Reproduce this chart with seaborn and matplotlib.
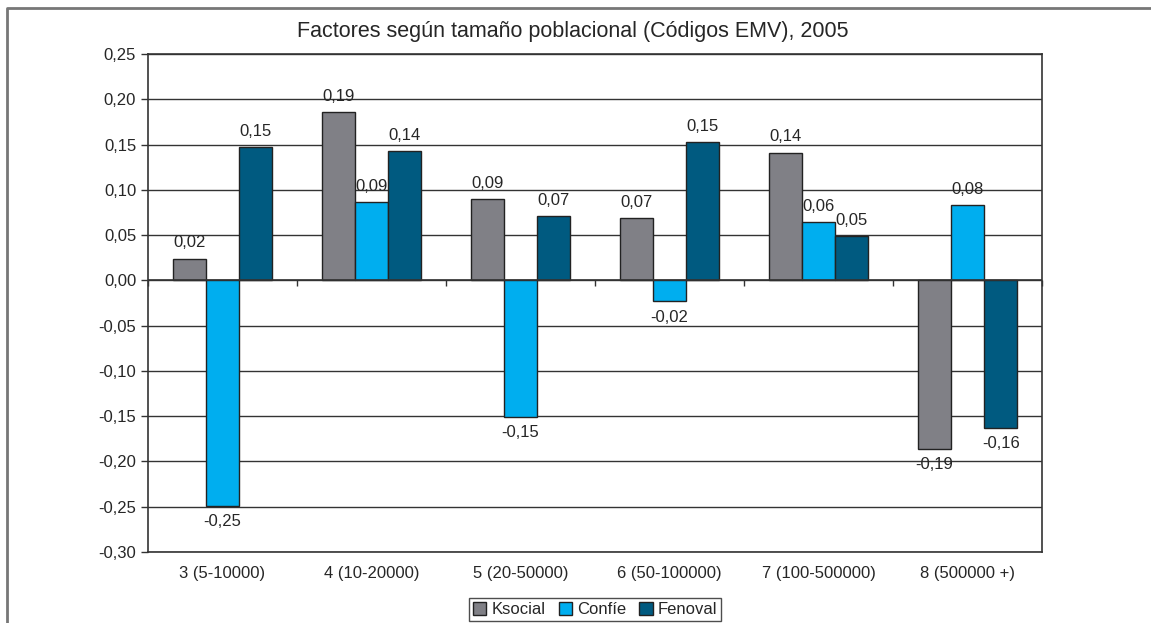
import numpy as np
import pandas as pd
import matplotlib.pyplot as plt
import seaborn as sns
from matplotlib.lines import Line2D

#%%

grupos = ["3 (5-10000)", "4 (10-20000)", "5 (20-50000)", "6 (50-100000)",
          "7 (100-500000)", "8 (500000 +)"]

ksocial = [0.024, 0.186, 0.090, 0.069, 0.141, -0.186]
confie = [-0.249, 0.086, -0.151, -0.023, 0.064, 0.083]
fenoval = [0.147, 0.143, 0.071, 0.153, 0.049, -0.163]

series = ["Ksocial", "Confíe", "Fenoval"]
colores = ["#808086", "#00aeef", "#005a80"]

#%%

df = pd.DataFrame({"grupo": grupos * 3,
                   "valor": ksocial + confie + fenoval,
                   "serie": np.repeat(series, len(grupos))})

sns.set_style("white")
plt.rcParams["font.family"] = ["Liberation Sans", "DejaVu Sans"]

fig = plt.figure(figsize=(11.51, 6.23), dpi=100)
ax = fig.add_axes([0.1286, 0.1140, 0.7767, 0.7993])

sns.barplot(ax=ax, data=df, x="grupo", y="valor", hue="serie",
            palette=colores, width=0.67, edgecolor="#222222", linewidth=1,
            saturation=1, errorbar=None)

def coma(v):
    s = f"{v:.2f}".replace(".", ",")
    return "0,00" if s == "-0,00" else s

ax.set_ylim(-0.30, 0.25)
ax.set_yticks(np.arange(-0.30, 0.2501, 0.05))
ax.set_yticklabels([coma(t) for t in ax.get_yticks()], fontsize=12)
ax.tick_params(axis="x", labelsize=12, length=0, pad=10)
ax.tick_params(axis="y", left=True, length=5, width=1, color="#333333")
ax.set_xlim(-0.5, len(grupos) - 0.5)
ax.set_xlabel("")
ax.set_ylabel("")

ax.yaxis.grid(True, color="#333333", linewidth=1)
ax.set_axisbelow(True)
for s in ax.spines.values():
    s.set_color("#333333")
    s.set_linewidth(1.2)

ax.axhline(0, color="#333333", linewidth=1.2)
# marcas de categoria sobre el eje en 0
ax.vlines(np.arange(len(grupos) + 1) - 0.5, -0.006, 0, color="#333333",
          linewidth=1, clip_on=False)

for cont in ax.containers:
    ax.bar_label(cont, labels=[coma(v) for v in cont.datavalues],
                 padding=6, fontsize=12)

ax.set_title("Factores según tamaño poblacional (Códigos EMV), 2005",
             fontsize=15.5, pad=12, x=0.475)

leg = ax.legend(loc="upper center", bbox_to_anchor=(0.5, -0.075), ncol=3,
                fontsize=12, frameon=True, fancybox=False, edgecolor="#222222",
                handlelength=0.8, handleheight=0.8, handletextpad=0.3,
                columnspacing=0.8, borderpad=0.25)
leg.get_frame().set_linewidth(1)

# marco exterior del grafico (solo borde izquierdo y superior visibles)
x0, y0 = 7 / 1151, 1 - 8 / 623
fig.add_artist(Line2D([x0, x0, 1.0], [0.0, y0, y0], transform=fig.transFigure,
                      color="#777777", linewidth=2))

fig.savefig("out.png", dpi=100)
